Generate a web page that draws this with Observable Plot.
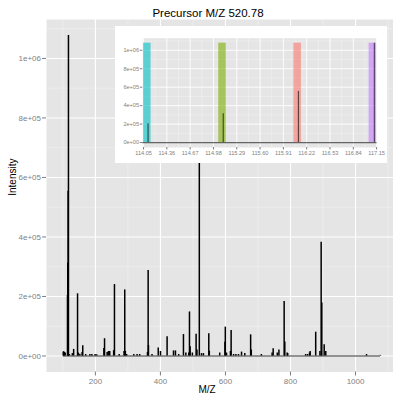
<!DOCTYPE html>
<html>
<head>
<meta charset="utf-8">
<script src="https://cdn.jsdelivr.net/npm/d3@7"></script>
<script src="https://cdn.jsdelivr.net/npm/@observablehq/plot@0.6"></script>
<style>
  html, body { margin: 0; padding: 0; background: white; }
  #wrap { position: relative; width: 393px; height: 395px; overflow: hidden; }
  #inset { position: absolute; left: 115px; top: 26px; }
</style>
</head>
<body>
<div id="wrap"><div id="main"></div><div id="inset"></div></div>
<script>
// ---------- data ----------
const titleText = "Precursor M/Z 520.78";
const xLabel = "M/Z";
const yLabel = "Intensity";

const mzValues = [
  101.1, 102.6, 104.1, 107.1, 114.11, 115.11, 116.11, 117.12, 120.1, 129.1,
  133.1, 145.1, 147.1, 152.1, 159.1, 161.1, 170.1, 183.1, 189.1, 199.1,
  204.1, 226.1, 228.1, 236.1, 240.1, 244.1, 256.1, 258.6, 273.1, 288.1,
  290.2, 292.1, 296.1, 318.1, 328.1, 336.1, 360.1, 362.2, 363.2, 374.1,
  393.2, 400.2, 420.5, 440.2, 446.2, 456.2, 470.8, 478.2, 487.2, 489.3,
  491.3, 498.2, 509.7, 512.3, 519.6, 526.3, 532.3, 548.7, 550.3, 582.3,
  598.3, 599.5, 603.3, 615.3, 617.4, 625.0, 632.0, 640.0, 649.4, 659.4,
  677.4, 679.4, 710.4, 743.4, 746.7, 759.4, 764.4, 780.5, 782.5, 789.7,
  791.5, 846.5, 852.5, 858.5, 860.5, 877.5, 890.5, 894.3, 896.3, 903.6,
  908.5, 1033.8, 1076.6
];
const intensityValues = [
  13000, 14000, 12000, 10000, 203000, 312000, 554000, 1077000, 5000, 8000,
  22000, 209000, 10000, 6000, 12000, 34000, 5000, 5000, 5000, 5000,
  4000, 25000, 58000, 12000, 15000, 15000, 18000, 240000, 5000, 15000,
  222000, 16000, 5000, 5000, 5000, 5000, 12000, 287000, 35000, 5000,
  27000, 15000, 65000, 17000, 17000, 5000, 72000, 10000, 10000, 148000,
  31000, 10000, 73000, 20000, 700000, 8000, 8000, 75000, 16000, 10000,
  46000, 97000, 10000, 15000, 86000, 5000, 5000, 5000, 13000, 8000,
  71000, 20000, 5000, 10000, 24000, 10000, 20000, 183000, 47000, 10000,
  8000, 5000, 5000, 10000, 15000, 80000, 15000, 382000, 178000, 38000,
  15000, 5000, 2000
];

// reporter ion windows (inset)
const reporterCenters = [114.1, 115.1, 116.1, 117.1];
const reporterColors = ["#00BFC4", "#7CAE00", "#F8766D", "#C77CFF"];
const reporterHalfWidth = 0.05;

// ticks
const xTicks = [200, 400, 600, 800, 1000];
const xTickLabels = ["200", "400", "600", "800", "1000"];
const xMinor = [100, 300, 500, 700, 900, 1100];
const yTicks = [0, 200000, 400000, 600000, 800000, 1000000];
const yTickLabels = ["0e+00", "2e+05", "4e+05", "6e+05", "8e+05", "1e+06"];
const yMinor = [100000, 300000, 500000, 700000, 900000, 1100000];

const insetXTicks = [114.05, 114.36, 114.67, 114.98, 115.29, 115.60, 115.91, 116.22, 116.53, 116.84, 117.15];
const insetXTickLabels = ["114.05", "114.36", "114.67", "114.98", "115.29", "115.60", "115.91", "116.22", "116.53", "116.84", "117.15"];
const insetXMinor = [114.205, 114.515, 114.825, 115.135, 115.445, 115.755, 116.065, 116.375, 116.685, 116.995];

// ---------- derived tables ----------
const peaks = mzValues.map((m, i) => ({mz: m, int: intensityValues[i]}));
const maxInt = d3.max(intensityValues);
const mzMin = d3.min(mzValues), mzMax = d3.max(mzValues);
const bands = reporterCenters.map((c, i) => ({x1: c - reporterHalfWidth, x2: c + reporterHalfWidth, color: reporterColors[i]}));
const insetDomain = [114.04, 117.155];
const insetPeaks = peaks.filter(d => d.mz >= insetDomain[0] && d.mz <= insetDomain[1]);

const yDomain = [-0.05 * maxInt, 1.05 * maxInt];
const font = "'Liberation Sans', Arial, Helvetica, sans-serif";

// ---------- main chart ----------
const main = Plot.plot({
  width: 393, height: 395,
  marginLeft: 46, marginRight: 0, marginTop: 19, marginBottom: 23.5,
  x: {domain: [49.6, 1126], range: [46, 396]},
  y: {domain: yDomain},
  style: {fontFamily: font, background: "white", overflow: "visible"},
  marks: [
    Plot.frame({fill: "#E5E5E5", stroke: null}),
    Plot.ruleX(xMinor, {stroke: "#F2F2F2", strokeWidth: 0.6}),
    Plot.ruleY(yMinor, {stroke: "#F2F2F2", strokeWidth: 0.6}),
    Plot.ruleX(xTicks, {stroke: "white", strokeWidth: 1.1}),
    Plot.ruleY(yTicks, {stroke: "white", strokeWidth: 1.1}),
    Plot.ruleY([0], {x1: mzMin, x2: mzMax, stroke: "#333", strokeWidth: 1.2}),
    Plot.ruleX(peaks, {x: "mz", y1: 0, y2: "int", stroke: "black", strokeWidth: 1.5}),
    Plot.axisX({ticks: xTicks, tickFormat: (d, i) => xTickLabels[i], tickSize: 4, tickPadding: 2,
      color: "#7F7F7F", fontSize: 8, label: null}),
    Plot.axisY({ticks: yTicks, tickFormat: (d, i) => yTickLabels[i], tickSize: 4, tickPadding: 1.5,
      color: "#7F7F7F", fontSize: 8, label: null}),
    Plot.text([titleText], {frameAnchor: "top", dx: -12, dy: -6.5, lineAnchor: "middle",
      fontSize: 11.5, fill: "black"}),
    Plot.text([xLabel], {frameAnchor: "bottom", dx: -13, dy: 18, lineAnchor: "middle",
      fontSize: 10, fill: "black"}),
    Plot.text([yLabel], {frameAnchor: "left", dx: -33.5, rotate: -90, lineAnchor: "middle",
      fontSize: 10, fill: "black"})
  ]
});
document.getElementById("main").appendChild(main);

// ---------- inset chart ----------
const inset = Plot.plot({
  width: 272, height: 137,
  marginLeft: 27.3, marginRight: 10.5, marginTop: 11.7, marginBottom: 16,
  x: {domain: insetDomain},
  y: {domain: yDomain},
  color: {type: "identity"},
  style: {fontFamily: font, background: "white", overflow: "visible"},
  marks: [
    Plot.frame({fill: "#E5E5E5", stroke: null}),
    Plot.ruleX(insetXMinor, {stroke: "#F2F2F2", strokeWidth: 0.5}),
    Plot.ruleY(yMinor, {stroke: "#F2F2F2", strokeWidth: 0.5}),
    Plot.ruleX(insetXTicks, {stroke: "white", strokeWidth: 0.9}),
    Plot.ruleY(yTicks, {stroke: "white", strokeWidth: 0.9}),
    Plot.rect(bands, {x1: "x1", x2: "x2", y1: 0, y2: maxInt, fill: "color", fillOpacity: 0.6}),
    Plot.ruleY([0], {stroke: "black", strokeOpacity: 0.6, strokeWidth: 1.3}),
    Plot.ruleX(insetPeaks, {x: "mz", y1: 0, y2: "int", stroke: "black", strokeOpacity: 0.6, strokeWidth: 1.2}),
    Plot.axisX({ticks: insetXTicks, tickFormat: (d, i) => insetXTickLabels[i], tickSize: 2.5, tickPadding: 1.5,
      color: "#7F7F7F", fontSize: 5.6, label: null}),
    Plot.axisY({ticks: yTicks, tickFormat: (d, i) => yTickLabels[i], tickSize: 2.5, tickPadding: 1.2,
      color: "#7F7F7F", fontSize: 5.6, label: null})
  ]
});
document.getElementById("inset").appendChild(inset);
</script>
</body>
</html>
